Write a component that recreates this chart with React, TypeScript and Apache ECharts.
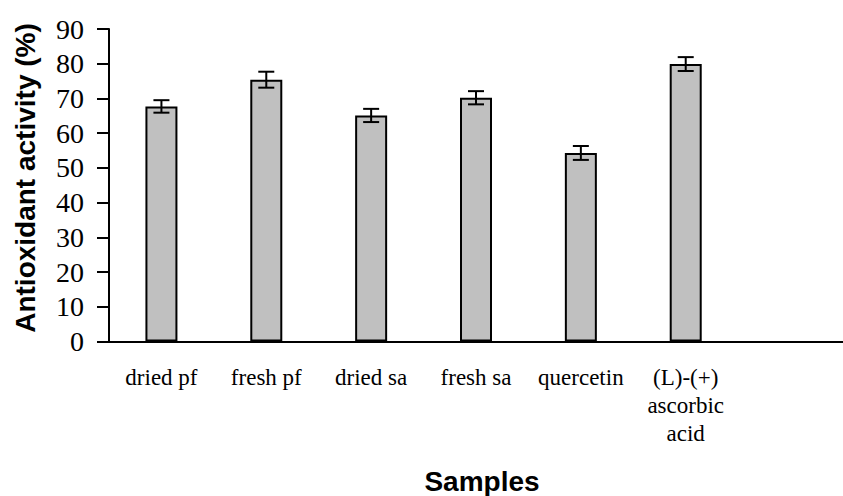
import React, { useEffect, useRef } from "react";
import * as echarts from "echarts";

const categories = ["dried pf", "fresh pf", "dried sa", "fresh sa", "quercetin", "(L)-(+)\nascorbic\nacid", ""];
const activity = [67.7, 75.4, 65.1, 70.2, 54.3, 79.9, null];
const errors = [1.8, 2.3, 1.9, 1.9, 2.0, 2.0, null];
const yTicks = { min: 0, max: 90, interval: 10 };
const yTitle = "Antioxidant activity (%)";
const xTitle = "Samples";

export default function App() {
  const ref = useRef<HTMLDivElement>(null);
  useEffect(() => {
    if (!ref.current) return;
    const chart = echarts.init(ref.current, null, { renderer: "svg" });
    const errData = categories
      .map((c, i) => (activity[i] == null ? null : [i, activity[i]! - errors[i]!, activity[i]! + errors[i]!]))
      .filter((d) => d != null);
    chart.setOption({
      animation: false,
      backgroundColor: "#ffffff",
      grid: { left: 109, top: 29, width: 743, height: 312.5, containLabel: false },
      xAxis: {
        type: "category",
        data: categories,
        axisLine: { lineStyle: { color: "#000", width: 2 } },
        axisTick: { show: false },
        axisLabel: {
          interval: 0,
          color: "#000",
          fontFamily: "Liberation Serif",
          fontSize: 23,
          lineHeight: 28,
          margin: 22,
        },
      },
      yAxis: {
        type: "value",
        min: yTicks.min,
        max: yTicks.max,
        interval: yTicks.interval,
        splitLine: { show: false },
        axisLine: { show: true, lineStyle: { color: "#000", width: 2 } },
        axisTick: { show: true, length: 12, lineStyle: { color: "#000", width: 2 } },
        axisLabel: {
          color: "#000",
          fontFamily: "Liberation Serif",
          fontSize: 28,
          margin: 25,
        },
      },
      series: [
        {
          type: "bar",
          data: activity,
          barWidth: 32,
          itemStyle: { color: "#c0c0c0", borderColor: "#000", borderWidth: 2 },
        },
        {
          type: "custom",
          data: errData,
          z: 10,
          renderItem: (params: any, api: any) => {
            const x = api.value(0);
            const lo = api.coord([x, api.value(1)]);
            const hi = api.coord([x, api.value(2)]);
            const hw = 8;
            const style = { stroke: "#000", lineWidth: 2 };
            return {
              type: "group",
              children: [
                { type: "line", shape: { x1: lo[0], y1: lo[1], x2: hi[0], y2: hi[1] }, style },
                { type: "line", shape: { x1: lo[0] - hw, y1: lo[1], x2: lo[0] + hw, y2: lo[1] }, style },
                { type: "line", shape: { x1: hi[0] - hw, y1: hi[1], x2: hi[0] + hw, y2: hi[1] }, style },
              ],
            };
          },
        },
      ],
      graphic: [
        {
          type: "text",
          x: 25,
          y: 178,
          rotation: Math.PI / 2,
          style: {
            text: yTitle,
            font: "bold 28px 'Liberation Sans'",
            fill: "#000",
            align: "center",
            verticalAlign: "middle",
          },
        },
        {
          type: "text",
          x: 482,
          y: 481,
          style: {
            text: xTitle,
            font: "bold 28px 'Liberation Sans'",
            fill: "#000",
            align: "center",
            verticalAlign: "middle",
          },
        },
      ],
    });
    return () => chart.dispose();
  }, []);
  return <div ref={ref} style={{ width: 843, height: 496, position: "absolute", left: 0, top: 0 }} />;
}
